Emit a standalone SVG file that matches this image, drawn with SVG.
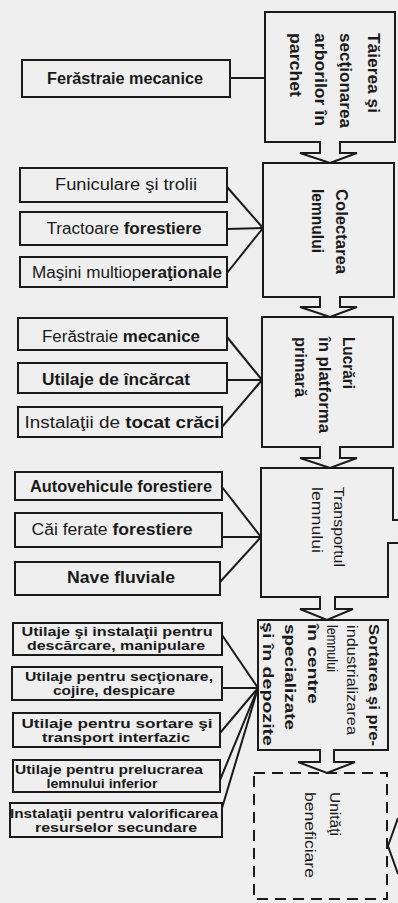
<svg xmlns="http://www.w3.org/2000/svg" width="398" height="903" viewBox="0 0 398 903">
<style>
.bg{fill:#efefef}
.box{fill:none;stroke:#1a1a1a;stroke-width:2}
.dash{fill:none;stroke:#1a1a1a;stroke-width:2;stroke-dasharray:11 7}
.con{fill:none;stroke:#1a1a1a;stroke-width:2}
.arr{fill:#efefef;stroke:#1a1a1a;stroke-width:2;stroke-linejoin:miter}
text{font-family:"Liberation Sans","DejaVu Sans",sans-serif;fill:#1a1a1a}
.t{font-size:16px;text-anchor:middle}
.s{font-size:12px;text-anchor:middle;font-weight:bold}
.v{font-size:17px;font-weight:bold}
.vn{font-size:15px}
.vs{font-size:14px}
.b{font-weight:bold}
</style>
<rect class="bg" x="0" y="0" width="398" height="903"/>

<g id="connectors">
<line class="con" x1="230" y1="78" x2="265" y2="78"/>
<line class="con" x1="227" y1="187" x2="263" y2="228"/>
<line class="con" x1="227" y1="229" x2="263" y2="228"/>
<line class="con" x1="227" y1="273" x2="263" y2="228"/>
<line class="con" x1="227" y1="337" x2="262" y2="380"/>
<line class="con" x1="227" y1="380" x2="262" y2="380"/>
<line class="con" x1="222" y1="427" x2="262" y2="380"/>
<line class="con" x1="222" y1="487" x2="261" y2="537"/>
<line class="con" x1="222" y1="537" x2="261" y2="537"/>
<line class="con" x1="220" y1="582" x2="261" y2="537"/>
<line class="con" x1="222" y1="635" x2="258" y2="688"/>
<line class="con" x1="222" y1="688" x2="258" y2="688"/>
<line class="con" x1="220" y1="733" x2="258" y2="688"/>
<line class="con" x1="220" y1="780" x2="258" y2="688"/>
<line class="con" x1="222" y1="808" x2="258" y2="688"/>
</g>

<g id="n1"><rect class="box" x="265" y="12" width="130" height="130"/>
<text class="v" transform="translate(368,33) rotate(90)" textLength="80" lengthAdjust="spacingAndGlyphs">Tăierea şi</text>
<text class="v" transform="translate(340,33) rotate(90)" textLength="95" lengthAdjust="spacingAndGlyphs">secţionarea</text>
<text class="v" transform="translate(315,33) rotate(90)" textLength="93" lengthAdjust="spacingAndGlyphs">arborilor în</text>
<text class="v" transform="translate(290,33) rotate(90)" textLength="64" lengthAdjust="spacingAndGlyphs">parchet</text>
</g>
<g id="n2"><rect class="box" x="263" y="163" width="131" height="134"/>
<text class="v" transform="translate(336,189) rotate(90)" textLength="85" lengthAdjust="spacingAndGlyphs">Colectarea</text>
<text class="v" transform="translate(312,189) rotate(90)" textLength="64" lengthAdjust="spacingAndGlyphs">lemnului</text>
</g>
<g id="n3"><rect class="box" x="262" y="317" width="131" height="130"/>
<text class="v" transform="translate(343,337) rotate(90)" textLength="52" lengthAdjust="spacingAndGlyphs">Lucrări</text>
<text class="v" transform="translate(319,337) rotate(90)" textLength="96" lengthAdjust="spacingAndGlyphs">în platforma</text>
<text class="v" transform="translate(295,337) rotate(90)" textLength="60" lengthAdjust="spacingAndGlyphs">primară</text>
</g>
<g id="n4"><path class="box" d="M398 520 H393 V468 H261 V597 H388 V543 H398"/>
<text class="vn" transform="translate(334,487) rotate(90)" textLength="80" lengthAdjust="spacingAndGlyphs">Transportul</text>
<text class="vn" transform="translate(312,487) rotate(90)" textLength="66" lengthAdjust="spacingAndGlyphs">lemnului</text>
</g>
<g id="n5"><rect class="box" x="258" y="620" width="130" height="130"/>
<text class="vs b" transform="translate(369,624) rotate(90)" textLength="122" lengthAdjust="spacingAndGlyphs">Sortarea şi pre-</text>
<text class="vs" transform="translate(347,625) rotate(90)" textLength="110" lengthAdjust="spacingAndGlyphs">industrializarea</text>
<text class="vs" transform="translate(327,625) rotate(90)" textLength="47" lengthAdjust="spacingAndGlyphs">lemnului</text>
<text class="vs b" transform="translate(308,624) rotate(90)" textLength="80" lengthAdjust="spacingAndGlyphs">în centre</text>
<text class="vs b" transform="translate(285,624) rotate(90)" textLength="106" lengthAdjust="spacingAndGlyphs">specializate</text>
<text class="vs b" transform="translate(263,622) rotate(90)" textLength="124" lengthAdjust="spacingAndGlyphs">şi în depozite</text>
</g>
<g id="n6"><rect class="dash" x="254" y="773" width="133" height="126"/>
<text class="vn" transform="translate(330,792) rotate(90)" textLength="44" lengthAdjust="spacingAndGlyphs">Unităţi</text>
<text class="vn" transform="translate(305,792) rotate(90)" textLength="86" lengthAdjust="spacingAndGlyphs">beneficiare</text>
<path class="con" d="M398 818 L388 846 L398 874"/>
</g>

<g id="flow-arrows">
<path class="arr" d="M320 141 V153 H300 L330 163 L357 153 H340 V141"/>
<path class="arr" d="M320 296 V307 H300 L330 317 L357 307 H340 V296"/>
<path class="arr" d="M320 446 V458 H300 L330 468 L357 458 H340 V446"/>
<path class="arr" d="M320 596 V609 H300 L327 620 L353 609 H335 V596"/>
<path class="arr" d="M320 749 V762 H298 L327 773 L355 762 H334 V749"/>
</g>

<g id="nA"><rect class="box" x="22" y="60" width="208" height="37"/>
<text class="t b" x="125" y="84" textLength="156" lengthAdjust="spacingAndGlyphs">Ferăstraie mecanice</text></g>
<g id="nB"><rect class="box" x="20" y="168" width="207" height="34"/>
<text class="t" x="126" y="190" textLength="142" lengthAdjust="spacingAndGlyphs">Funiculare şi trolii</text></g>
<g id="nC"><rect class="box" x="20" y="212" width="207" height="33"/>
<text class="t" x="124" y="234" textLength="155" lengthAdjust="spacingAndGlyphs">Tractoare <tspan class="b">forestiere</tspan></text></g>
<g id="nD"><rect class="box" x="20" y="257" width="207" height="30"/>
<text class="t" x="127" y="278" textLength="190" lengthAdjust="spacingAndGlyphs">Maşini multiop<tspan class="b">eraţionale</tspan></text></g>
<g id="nE"><rect class="box" x="18" y="318" width="209" height="32"/>
<text class="t" x="121" y="342" textLength="158" lengthAdjust="spacingAndGlyphs">Ferăstraie <tspan class="b">mecanice</tspan></text></g>
<g id="nF"><rect class="box" x="18" y="363" width="209" height="30"/>
<text class="t b" x="116" y="385" textLength="148" lengthAdjust="spacingAndGlyphs">Utilaje de încărcat</text></g>
<g id="nG"><rect class="box" x="18" y="407" width="204" height="30"/>
<text class="t" x="122" y="428" textLength="195" lengthAdjust="spacingAndGlyphs">Instalaţii de <tspan class="b">tocat crăci</tspan></text></g>
<g id="nH"><rect class="box" x="15" y="472" width="207" height="28"/>
<text class="t b" x="121" y="492" textLength="182" lengthAdjust="spacingAndGlyphs">Autovehicule forestiere</text></g>
<g id="nI"><rect class="box" x="15" y="513" width="207" height="34"/>
<text class="t" x="112" y="535" textLength="161" lengthAdjust="spacingAndGlyphs">Căi ferate <tspan class="b">forestiere</tspan></text></g>
<g id="nJ"><rect class="box" x="15" y="562" width="205" height="33"/>
<text class="t b" x="121" y="583" textLength="108" lengthAdjust="spacingAndGlyphs">Nave fluviale</text></g>
<g id="nK"><rect class="box" x="13" y="623" width="209" height="32"/>
<text class="s" x="117" y="636" textLength="191" lengthAdjust="spacingAndGlyphs">Utilaje şi instalaţii pentru</text>
<text class="s" x="116" y="650" textLength="178" lengthAdjust="spacingAndGlyphs">descărcare, manipulare</text></g>
<g id="nL"><rect class="box" x="12" y="667" width="210" height="33"/>
<text class="s" x="119" y="681" textLength="188" lengthAdjust="spacingAndGlyphs">Utilaje pentru secţionare,</text>
<text class="s" x="114" y="695" textLength="122" lengthAdjust="spacingAndGlyphs">cojire, despicare</text></g>
<g id="nM"><rect class="box" x="13" y="713" width="207" height="34"/>
<text class="s" x="117" y="728" textLength="191" lengthAdjust="spacingAndGlyphs">Utilaje pentru sortare şi</text>
<text class="s" x="116" y="742" textLength="148" lengthAdjust="spacingAndGlyphs">transport interfazic</text></g>
<g id="nN"><rect class="box" x="13" y="760" width="207" height="32"/>
<text class="s" x="109" y="774" textLength="188" lengthAdjust="spacingAndGlyphs">Utilaje pentru prelucrarea</text>
<text class="s" x="102" y="788" textLength="111" lengthAdjust="spacingAndGlyphs">lemnului inferior</text></g>
<g id="nO"><rect class="box" x="10" y="803" width="212" height="34"/>
<text class="s" x="114" y="818" textLength="208" lengthAdjust="spacingAndGlyphs">Instalaţii pentru valorificarea</text>
<text class="s" x="116" y="832" textLength="162" lengthAdjust="spacingAndGlyphs">resurselor secundare</text></g>
</svg>
